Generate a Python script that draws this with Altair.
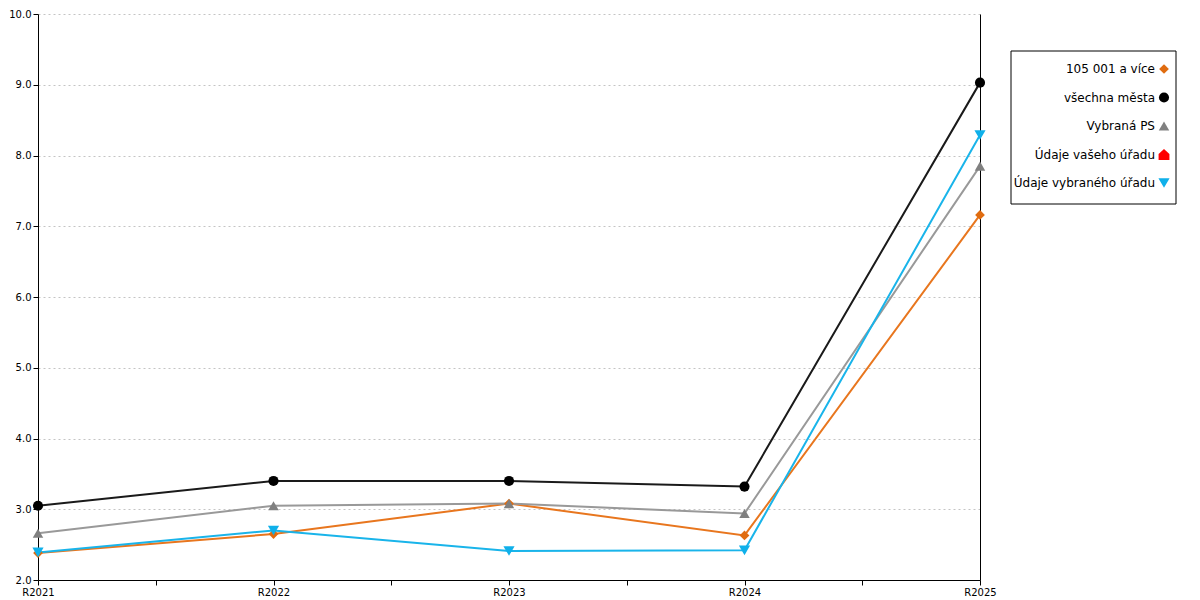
import json
import altair as alt
import pandas as pd

categories = ["R2021", "R2022", "R2023", "R2024", "R2025"]
series = ["105 001 a více", "všechna města", "Vybraná PS", "Údaje vašeho úřadu", "Údaje vybraného úřadu"]
v_105001 = [2.38, 2.65, 3.08, 2.63, 7.16]
v_vsechna = [3.05, 3.40, 3.40, 3.32, 9.03]
v_vybrana_ps = [2.66, 3.05, 3.08, 2.94, 7.85]
v_vaseho = []
v_vybraneho = [2.39, 2.70, 2.41, 2.42, 8.29]

line_colors = ["#e8761e", "#1a1a1a", "#999999", "#ff0000", "#19b4ea"]
marker_colors = ["#e06c10", "#000000", "#808080", "#ff0000", "#0fb0ea"]
house = "M-1,1L-1,-0.1L0,-1L1,-0.1L1,1Z"
shapes = ["diamond", "circle", "triangle-up", house, "triangle-down"]
sizes = [95, 125, 150, 130, 150]

rows = []
for name, vals in zip(series, [v_105001, v_vsechna, v_vybrana_ps, v_vaseho, v_vybraneho]):
    for i, v in enumerate(vals):
        rows.append({"series": name, "cat": categories[i], "idx": i, "value": v})
df = pd.DataFrame(rows)
leg = pd.DataFrame({"series": series})

font = "DejaVu Sans"
label_expr = f"datum.value % 1 == 0 ? {json.dumps(categories)}[datum.value] : ''"
xticks = [i * 0.5 for i in range(2 * (len(categories) - 1) + 1)]

x_enc = alt.X("idx:Q",
              scale=alt.Scale(domain=[0, len(categories) - 1], nice=False, zero=False),
              axis=alt.Axis(values=xticks, labelExpr=label_expr, grid=False, title=None,
                            labelFlush=False))
y_scale = alt.Scale(domain=[2, 10], nice=False, zero=False)

lines = alt.Chart(df).mark_line(strokeWidth=2).encode(
    x=x_enc,
    y=alt.Y("value:Q", scale=y_scale,
            axis=alt.Axis(values=[2, 3, 4, 5, 6, 7, 8, 9, 10], format=".1f", title=None,
                          grid=True, gridDash=[2, 3], gridColor="#c4c4c4")),
    color=alt.Color("series:N", scale=alt.Scale(domain=series, range=line_colors), legend=None),
    detail="series:N",
    order="idx:Q",
)

points = alt.Chart(df).mark_point(filled=True, opacity=1).encode(
    x=x_enc,
    y=alt.Y("value:Q", scale=y_scale,
            axis=alt.Axis(orient="right", labels=False, ticks=False, grid=False,
                          domainColor="black", title=None)),
    color=alt.Color("series:N", scale=alt.Scale(domain=series, range=marker_colors), legend=None),
    shape=alt.Shape("series:N", scale=alt.Scale(domain=series, range=shapes), legend=None),
    size=alt.Size("series:N", scale=alt.Scale(domain=series, range=sizes), legend=None),
)

box = alt.Chart(alt.Data(values=[{"a": 1}])).mark_rect(
    fill="white", stroke="black", strokeWidth=1
).encode(x=alt.value(973), x2=alt.value(1138), y=alt.value(37), y2=alt.value(190))

leg_y = alt.Y("series:N", sort=series, axis=None,
              scale=alt.Scale(type="point", domain=series, range=[55, 169], padding=0))

leg_text = alt.Chart(leg).mark_text(
    align="right", baseline="middle", font=font, fontSize=12, color="black"
).encode(x=alt.value(1117), y=leg_y, text="series:N")

leg_pts = alt.Chart(leg).mark_point(filled=True, opacity=1).encode(
    x=alt.value(1126), y=leg_y,
    color=alt.Color("series:N", scale=alt.Scale(domain=series, range=marker_colors), legend=None),
    shape=alt.Shape("series:N", scale=alt.Scale(domain=series, range=shapes), legend=None),
    size=alt.Size("series:N", scale=alt.Scale(domain=series, range=sizes), legend=None),
)

chart = alt.layer(lines, points, box, leg_text, leg_pts).resolve_scale(
    y="independent", color="independent"
).resolve_axis(y="independent").properties(
    width=942, height=566,
    autosize=alt.AutoSizeParams(type="none"),
    padding={"left": 30, "top": 6, "right": 210, "bottom": 20},
).configure_axis(
    labelFont=font, labelFontSize=10, labelColor="black",
    domainColor="black", tickColor="black", tickSize=5, labelPadding=2,
).configure_view(stroke=None)

chart.save("out.html", embed_options={"renderer": "svg", "actions": False})
